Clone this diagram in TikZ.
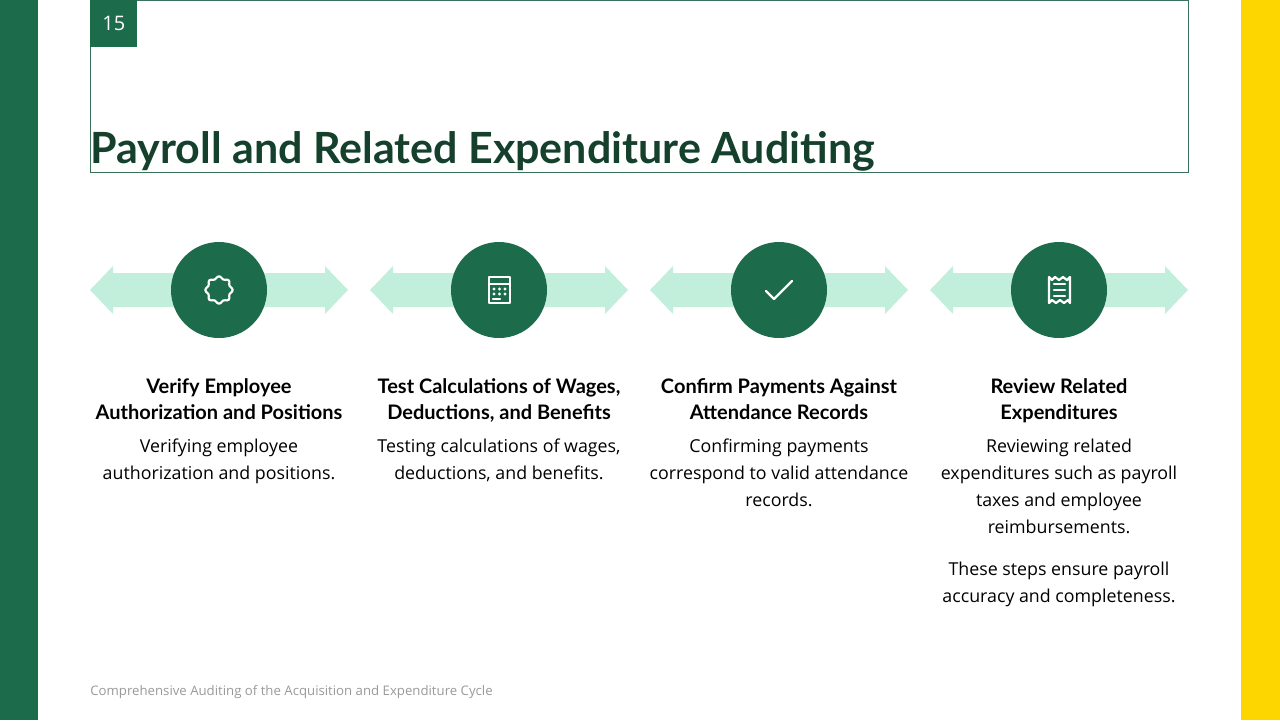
\documentclass[tikz,border=0pt]{standalone}
\usepackage{fontspec}
\setmainfont{Open Sans}
\newfontfamily\headfont{Lato}
\definecolor{dkgreen}{HTML}{1C6B4A}
\definecolor{ltgreen}{HTML}{C2EFDB}
\definecolor{sunyellow}{HTML}{FDD600}
\definecolor{titlegreen}{HTML}{14402C}
\tikzset{
  stepcircle/.style={circle, fill=dkgreen, minimum size=48pt, inner sep=0pt},
  stephead/.style={font=\headfont\bfseries\fontsize{10}{13}\selectfont, align=center, anchor=north},
  steptext/.style={font=\fontsize{8.9}{13.4}\selectfont, align=center, anchor=north},
  iconline/.style={white, line width=1.1pt, line cap=round, line join=round}
}
\begin{document}
\begin{tikzpicture}[x=0.5pt, y=-0.5pt]
      \useasboundingbox (0,0) rectangle (1280,720);
      \fill[dkgreen] (0,0) rectangle (38,720);
      \fill[sunyellow] (1241,0) rectangle (1280,720);
      \draw[dkgreen!70!gray, line width=0.5pt] (90,0) rectangle (1188,172);
      \node[fill=dkgreen, minimum width=23.5pt, minimum height=23.5pt, anchor=north west, text=white, font=\fontsize{10}{12}\selectfont] (num) at (90,0) {15};
      \node[anchor=base west, inner sep=0pt, text=titlegreen, font=\headfont\bfseries\fontsize{21.5}{26}\selectfont] (title) at (90,163) {Payroll and Related Expenditure Auditing};

      % arrows behind the circles
      \foreach \cx in {219,499,779,1059} {
        \fill[ltgreen] (\cx-129,290) -- (\cx-106,266) -- (\cx-106,273) -- (\cx+106,273) -- (\cx+106,266)
          -- (\cx+129,290) -- (\cx+106,314) -- (\cx+106,307) -- (\cx-106,307) -- (\cx-106,314) -- cycle;
      }
      \node[stepcircle] (c1) at (219,290) {};
      \node[stepcircle] (c2) at (499,290) {};
      \node[stepcircle] (c3) at (779,290) {};
      \node[stepcircle] (c4) at (1059,290) {};

      % icons
      \draw[iconline] plot[smooth cycle, samples=49, domain=0:360, variable=\t]
        ({219+(12.5+1.2*cos(8*\t))*cos(\t)}, {290+(12.5+1.2*cos(8*\t))*sin(\t)});
      \draw[iconline] (489,277) rectangle (510,303);
      \draw[iconline] (489,284) -- (510,284);
      \foreach \dx in {494,499.5,505} \foreach \dy in {289,294} \fill[white] (\dx,\dy) circle (1.6);
      \draw[iconline] (493,299) -- (500,299);
      \draw[iconline] (766,291) -- (774,299) -- (792,281);
      \draw[iconline] (1049,277) -- (1049,303) -- (1052,300) -- (1056,303) -- (1060,300) -- (1064,303) -- (1068,300) -- (1070,303) -- (1070,277)
        -- (1067,280) -- (1063,277) -- (1059,280) -- (1055,277) -- (1052,280) -- cycle;
      \foreach \ly in {284,290,296} \draw[iconline] (1054,\ly) -- (1065,\ly);

      % labels
      \node[stephead] (h1) at (219,372) {Verify Employee\\Authorization and Positions};
      \node[stephead] (h2) at (499,372) {Test Calculations of Wages,\\Deductions, and Benefits};
      \node[stephead] (h3) at (779,372) {Confirm Payments Against\\Attendance Records};
      \node[stephead] (h4) at (1059,372) {Review Related\\Expenditures};
      \node[steptext] (t1) at (219,432) {Verifying employee\\authorization and positions.};
      \node[steptext] (t2) at (499,432) {Testing calculations of wages,\\deductions, and benefits.};
      \node[steptext] (t3) at (779,432) {Confirming payments\\correspond to valid attendance\\records.};
      \node[steptext] (t4) at (1059,432) {Reviewing related\\expenditures such as payroll\\taxes and employee\\reimbursements.};
      \node[steptext] (t5) at (1059,555) {These steps ensure payroll\\accuracy and completeness.};

      \node[anchor=base west, inner sep=0pt, text=black!40, font=\fontsize{6.6}{8}\selectfont] (foot) at (90,695) {Comprehensive Auditing of the Acquisition and Expenditure Cycle};
    \end{tikzpicture}
\end{document}
